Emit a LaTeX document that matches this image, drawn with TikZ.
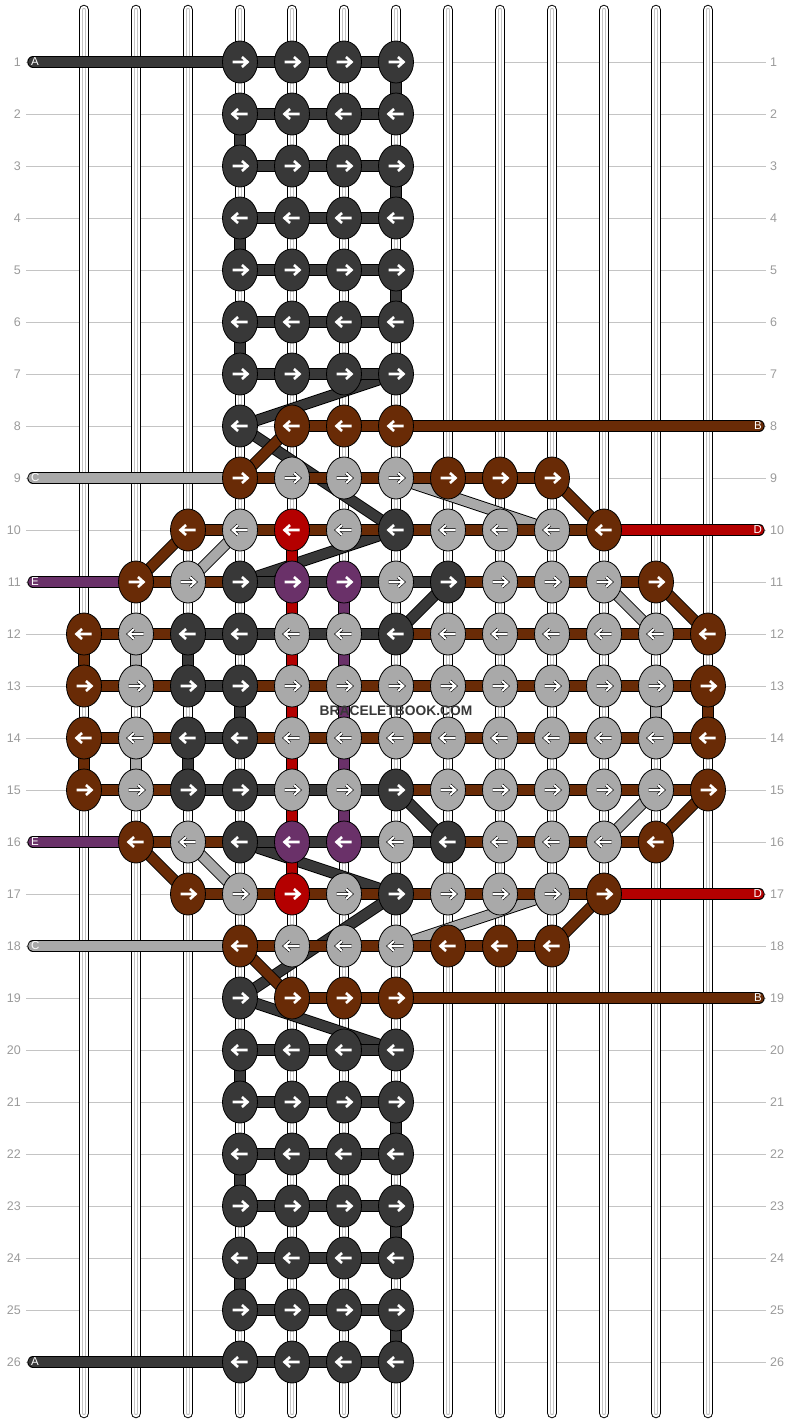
\documentclass[tikz,border=0pt]{standalone}
\usepackage{fontspec}
\setmainfont{Liberation Sans}
\usetikzlibrary{shapes.geometric}

\definecolor{colA}{HTML}{383838}
\definecolor{colB}{HTML}{692B06}
\definecolor{colC}{HTML}{A9A9A9}
\definecolor{colD}{HTML}{B40000}
\definecolor{colE}{HTML}{6A3169}
\definecolor{rowgray}{HTML}{C4C4C4}
\definecolor{numgray}{HTML}{9A9A9A}

\pgfdeclarelayer{strings}
\pgfdeclarelayer{diags}
\pgfdeclarelayer{threads}
\pgfsetlayers{strings,diags,threads,main}

\begin{document}
\begin{tikzpicture}[
    x=1pt, y=-1pt,
    knot/.style={ellipse, draw=black, line width=0.8pt, minimum width=35pt, minimum height=42pt, inner sep=0pt},
    thread/.style={draw=black, line width=0.9pt, double distance=9.6pt, double=#1},
    endthread/.style={thread=#1, line cap=round},
    segA/.style={thread=colA}, segB/.style={thread=colB}, segN/.style={draw=none},
    string/.style={draw=black, line width=1pt, double=white, double distance=8.5pt, line cap=round},
    stringcore/.style={draw=rowgray, line width=1pt, double=white, double distance=2.4pt, line cap=round},
    arrA/.style={white, line width=2.6pt},
    arrB/.style={arrA}, arrD/.style={arrA}, arrE/.style={arrA},
    arrC/.style={draw=black, line width=0.6pt, double=white, double distance=2pt},
    rownum/.style={font=\fontsize{12.5}{14}\selectfont, text=numgray, inner sep=0pt},
    endlabel/.style={font=\fontsize{11.5}{13}\selectfont, text=white, inner sep=0pt}
]
\useasboundingbox (0,0) rectangle (792,1424);

% Grid and strings
\begin{pgfonlayer}{strings}
  \foreach \r in {1,...,26}
    \draw[rowgray, line width=1pt] (26,{10+52*\r}) -- (766,{10+52*\r});
  \foreach \c in {1,...,13} {
    \draw[string] ({32+52*\c},10) -- ({32+52*\c},1413);
    \draw[stringcore] ({32+52*\c},10) -- ({32+52*\c},1413);
  }
\end{pgfonlayer}

% Row numbers
\foreach \r in {1,...,26} {
  \node[rownum, anchor=east] (numL\r) at (21,{10+52*\r}) {\r};
  \node[rownum, anchor=west] (numR\r) at (770,{10+52*\r}) {\r};
}

% Knots: row / first column / knot colours / colours between knots
\foreach \r/\first/\knots/\segs in {
  1/4/{A,A,A,A}/{A,A,A},
  2/4/{A,A,A,A}/{A,A,A},
  3/4/{A,A,A,A}/{A,A,A},
  4/4/{A,A,A,A}/{A,A,A},
  5/4/{A,A,A,A}/{A,A,A},
  6/4/{A,A,A,A}/{A,A,A},
  7/4/{A,A,A,A}/{A,A,A},
  8/4/{A,B,B,B}/{N,B,B},
  9/4/{B,C,C,C,B,B,B}/{B,B,B,B,B,B},
  10/3/{B,C,D,C,A,C,C,C,B}/{B,B,B,B,B,B,B,B},
  11/2/{B,C,A,E,E,C,A,C,C,C,B}/{B,B,A,A,A,A,B,B,B,B},
  12/1/{B,C,A,A,C,C,A,C,C,C,C,C,B}/{B,B,A,A,A,A,B,B,B,B,B,B},
  13/1/{B,C,A,A,C,C,C,C,C,C,C,C,B}/{B,B,A,B,B,B,B,B,B,B,B,B},
  14/1/{B,C,A,A,C,C,C,C,C,C,C,C,B}/{B,B,A,B,B,B,B,B,B,B,B,B},
  15/1/{B,C,A,A,C,C,A,C,C,C,C,C,B}/{B,B,A,A,A,A,B,B,B,B,B,B},
  16/2/{B,C,A,E,E,C,A,C,C,C,B}/{B,B,A,A,A,A,B,B,B,B},
  17/3/{B,C,D,C,A,C,C,C,B}/{B,B,B,B,B,B,B,B},
  18/4/{B,C,C,C,B,B,B}/{B,B,B,B,B,B},
  19/4/{A,B,B,B}/{N,B,B},
  20/4/{A,A,A,A}/{A,A,A},
  21/4/{A,A,A,A}/{A,A,A},
  22/4/{A,A,A,A}/{A,A,A},
  23/4/{A,A,A,A}/{A,A,A},
  24/4/{A,A,A,A}/{A,A,A},
  25/4/{A,A,A,A}/{A,A,A},
  26/4/{A,A,A,A}/{A,A,A}} {
  \pgfmathtruncatemacro\d{1-2*mod(\r+1,2)}
  \foreach \x [count=\i from \first] in \knots {
    \node[knot, fill=col\x] (k\r-\i) at ({32+52*\i},{10+52*\r}) {};
    \draw[arr\x, shift={(k\r-\i.center)}, xscale=\d] (-7.5,0) -- (7.5,0) (2,5) -- (7.5,0) -- (2,-5);
  }
  \begin{pgfonlayer}{threads}
    \foreach \x [count=\i from \first] in \segs {
      \pgfmathtruncatemacro\j{\i+1}
      \draw[seg\x] (k\r-\i.center) -- (k\r-\j.center);
    }
  \end{pgfonlayer}
}

% Threads going down a column
\begin{pgfonlayer}{threads}
  \foreach \r/\c/\x in {1/7/A, 2/4/A, 3/7/A, 4/4/A, 5/7/A, 6/4/A,
      10/5/D, 11/5/D, 11/6/E, 12/1/B, 12/2/C, 12/3/A, 12/5/D, 12/6/E,
      13/4/A, 13/5/D, 13/6/E, 13/12/C, 13/13/B,
      14/1/B, 14/2/C, 14/3/A, 14/5/D, 14/6/E, 15/5/D, 15/6/E, 16/5/D,
      20/4/A, 21/7/A, 22/4/A, 23/7/A, 24/4/A, 25/7/A} {
    \pgfmathtruncatemacro\s{\r+1}
    \draw[thread=col\x] (k\r-\c.center) -- (k\s-\c.center);
  }
\end{pgfonlayer}

% Threads crossing between rows
\begin{pgfonlayer}{diags}
  \foreach \ra/\ca/\rb/\cb/\x in {7/7/8/4/A, 8/4/10/7/A, 10/7/11/4/A, 11/8/12/7/A,
      15/7/16/8/A, 16/4/17/7/A, 17/7/19/4/A, 19/4/20/7/A,
      8/5/9/4/B, 9/10/10/11/B, 10/3/11/2/B, 11/12/12/13/B,
      15/13/16/12/B, 16/2/17/3/B, 17/11/18/10/B, 18/4/19/5/B,
      9/7/10/10/C, 10/4/11/3/C, 11/11/12/12/C, 15/12/16/11/C, 16/3/17/4/C, 17/10/18/7/C}
    \draw[thread=col\x] (k\ra-\ca.center) -- (k\rb-\cb.center);
\end{pgfonlayer}

% Loose ends
\foreach \r/\c/\x in {1/4/A, 9/4/C, 11/2/E, 16/2/E, 18/4/C, 26/4/A} {
  \coordinate (endL\r) at (33,{10+52*\r});
  \begin{pgfonlayer}{threads}
    \draw[endthread=col\x] (endL\r) -- (k\r-\c.center);
  \end{pgfonlayer}
  \node[endlabel, anchor=west] (labL\r) at (31,{10+52*\r}) {\x};
}
\foreach \r/\c/\x in {8/7/B, 10/11/D, 17/11/D, 19/7/B} {
  \coordinate (endR\r) at (759,{10+52*\r});
  \begin{pgfonlayer}{threads}
    \draw[endthread=col\x] (k\r-\c.center) -- (endR\r);
  \end{pgfonlayer}
  \node[endlabel, anchor=east] (labR\r) at (762,{10+52*\r}) {\x};
}

\node[font=\bfseries\fontsize{13.8}{15}\selectfont, text=colA] (mark) at (396,711) {BRACELETBOOK.COM};

\end{tikzpicture}
\end{document}
